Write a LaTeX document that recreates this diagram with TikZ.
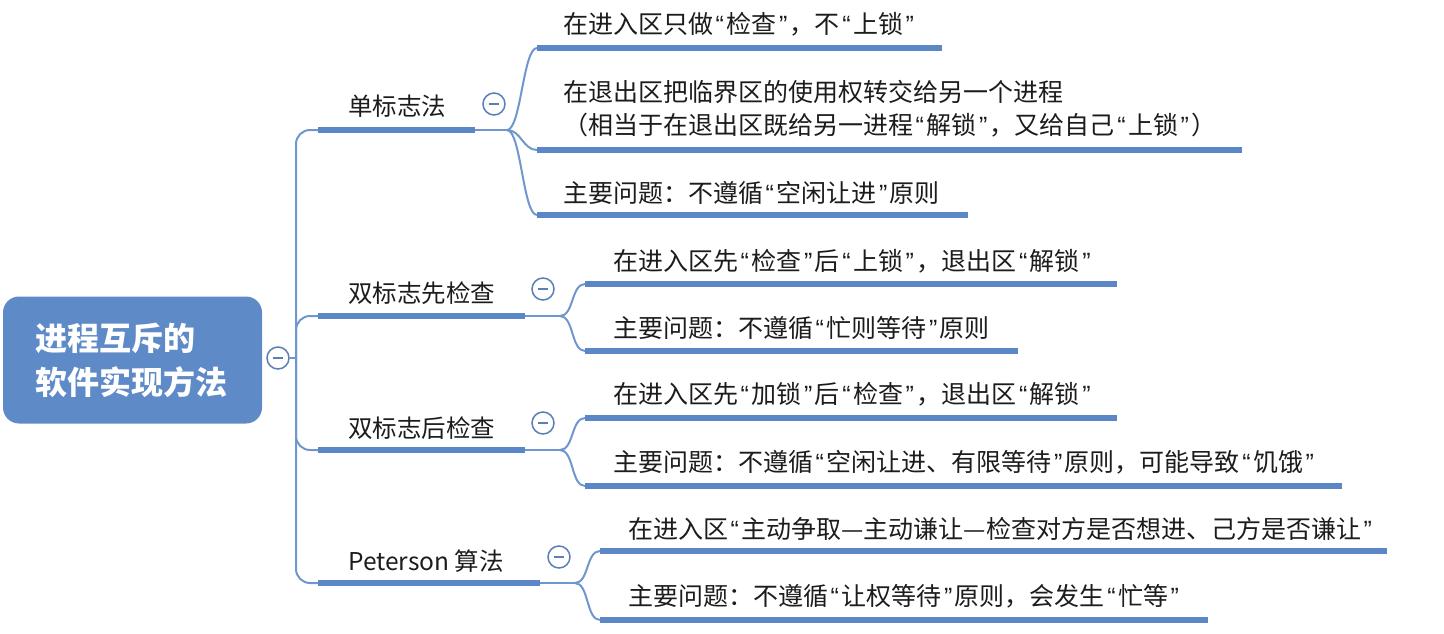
\documentclass[tikz,border=0pt]{standalone}
\usepackage{fontspec}
\setmainfont{Noto Sans CJK SC}
\newfontfamily\qfont{Liberation Sans}
\newcommand\qo{{\kern2.5pt\qfont “\kern2.5pt}}
\newcommand\qc{{\kern2.5pt\qfont ”\kern2.5pt}}
\definecolor{barblue}{HTML}{5B87C6}
\definecolor{lineblue}{HTML}{6F97CE}
\definecolor{foldblue}{HTML}{5A7FB8}
\definecolor{rootblue}{HTML}{5E8AC7}
\definecolor{txt}{HTML}{1C1C1C}
\begin{document}
\begin{tikzpicture}[x=1pt,y=-1pt,
  bar/.style={line width=6pt, draw=barblue},
  thin/.style={line width=2pt, draw=lineblue},
  lbl/.style={anchor=base west, inner sep=0pt, font=\fontsize{24.5}{30}\selectfont, text=txt},
  leaf/.style={anchor=base west, inner sep=0pt, font=\fontsize{25}{32}\selectfont, text=txt, align=left},
  root/.style={rounded corners=16pt, fill=rootblue, minimum width=259pt, minimum height=127pt, inner sep=0pt,
    text=white, font=\fontsize{32}{44}\selectfont\bfseries, align=left, text width=194pt},
  fold/.style={circle, draw=foldblue, line width=1.5pt, fill=white, minimum size=22pt, inner sep=0pt,
    path picture={\draw[foldblue, line width=2pt] ([xshift=-5pt]path picture bounding box.center) -- ([xshift=5pt]path picture bounding box.center);}}
]
\useasboundingbox (0,0) rectangle (1444,634);

% root
\node[root] (root) at (132.5,360) {进程互斥的\\软件实现方法};
\node[fold] (rf) at (278,358) {};
\coordinate (tj) at (296,358);

% branch bar coordinates
\coordinate (b1s) at (318,130); \coordinate (b1e) at (475,130); \coordinate (b1j) at (507,130);
\coordinate (b2s) at (318,316); \coordinate (b2e) at (525,316); \coordinate (b2j) at (560,316);
\coordinate (b3s) at (318,450); \coordinate (b3e) at (525,450); \coordinate (b3j) at (560,450);
\coordinate (b4s) at (318,583); \coordinate (b4e) at (540,583); \coordinate (b4j) at (575,583);

% trunk
\draw[thin] (rf.east) -- (tj);
\draw[thin, rounded corners=14pt] (tj) |- (b1s);
\draw[thin, rounded corners=14pt] (tj) |- (b2s);
\draw[thin, rounded corners=14pt] (tj) |- (b3s);
\draw[thin, rounded corners=14pt] (tj) |- (b4s);

% branches
\draw[bar] (b1s) -- (b1e); \draw[thin] (b1e) -- (b1j);
\draw[bar] (b2s) -- (b2e); \draw[thin] (b2e) -- (b2j);
\draw[bar] (b3s) -- (b3e); \draw[thin] (b3e) -- (b3j);
\draw[bar] (b4s) -- (b4e); \draw[thin] (b4e) -- (b4j);

\node[lbl] (n1) at (348,116) {单标志法};
\node[lbl] (n2) at (348,302) {双标志先检查};
\node[lbl] (n3) at (348,437) {双标志后检查};
\node[lbl] (n4) at (348,570) {Peterson 算法};

\node[fold] (f1) at (494,104) {};
\node[fold] (f2) at (543,289) {};
\node[fold] (f3) at (543,423) {};
\node[fold] (f4) at (559,557) {};

% leaves of branch 1
\coordinate (l11s) at (537,48);  \coordinate (l11e) at (942,48);
\coordinate (l12s) at (537,150); \coordinate (l12e) at (1242,150);
\coordinate (l13s) at (537,215); \coordinate (l13e) at (968,215);
% leaves of branch 2
\coordinate (l21s) at (585,284); \coordinate (l21e) at (1117,284);
\coordinate (l22s) at (585,351); \coordinate (l22e) at (1018,351);
% leaves of branch 3
\coordinate (l31s) at (585,418); \coordinate (l31e) at (1117,418);
\coordinate (l32s) at (585,486); \coordinate (l32e) at (1342,486);
% leaves of branch 4
\coordinate (l41s) at (600,551); \coordinate (l41e) at (1387,551);
\coordinate (l42s) at (600,620); \coordinate (l42e) at (1208,620);

\foreach \b/\l in {b1j/l11s,b1j/l12s,b1j/l13s,b2j/l21s,b2j/l22s,b3j/l31s,b3j/l32s,b4j/l41s,b4j/l42s}
  \draw[thin] (\b) .. controls +(14,0) and +(-14,0) .. (\l);

\foreach \s/\e in {l11s/l11e,l12s/l12e,l13s/l13e,l21s/l21e,l22s/l22e,l31s/l31e,l32s/l32e,l41s/l41e,l42s/l42e}
  \draw[bar] (\s) -- (\e);

\node[leaf] (t11) at (563,34) {在进入区只做\qo 检查\qc ，不\qo 上锁\qc};
\node[leaf] (t12) at (563,102) {在退出区把临界区的使用权转交给另一个进程};
\node[leaf] (t12b) at (563,134) {（相当于在退出区既给另一进程\qo 解锁\qc ，又给自己\qo 上锁\qc ）};
\node[leaf] (t13) at (563,202) {主要问题：不遵循\qo 空闲让进\qc 原则};

\node[leaf] (t21) at (613,270) {在进入区先\qo 检查\qc 后\qo 上锁\qc ，退出区\qo 解锁\qc};
\node[leaf] (t22) at (613,337) {主要问题：不遵循\qo 忙则等待\qc 原则};

\node[leaf] (t31) at (613,403) {在进入区先\qo 加锁\qc 后\qo 检查\qc ，退出区\qo 解锁\qc};
\node[leaf] (t32) at (613,471) {主要问题：不遵循\qo 空闲让进、有限等待\qc 原则，可能导致\qo 饥饿\qc};

\node[leaf] (t41) at (628,538) {在进入区\qo 主动争取—主动谦让—检查对方是否想进、己方是否谦让\qc};
\node[leaf] (t42) at (628,605) {主要问题：不遵循\qo 让权等待\qc 原则，会发生\qo 忙等\qc};
\end{tikzpicture}
\end{document}
